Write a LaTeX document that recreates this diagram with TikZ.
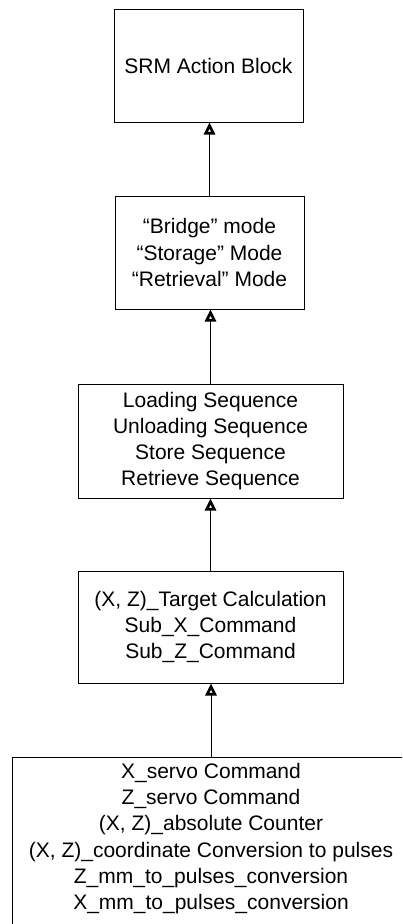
\documentclass[tikz,border=0pt]{standalone}
\usepackage{fontspec}
\setmainfont{Liberation Sans}
\usetikzlibrary{arrows.meta}
\begin{document}
\begin{tikzpicture}[x=1pt,y=-1pt,
  blk/.style={draw, line width=1pt, inner sep=0pt, align=center,
    font=\fontsize{21}{26.2}\selectfont},
  link/.style={line width=0.9pt,
    -{Triangle[open, length=12pt, width=11pt, line width=2.6pt]}}]
\useasboundingbox (0,0) rectangle (402,924);
\begin{scope}
\clip (0,0) rectangle (402,924);
\node[blk, minimum width=189pt, minimum height=113pt] (b1) at (208.5,65.5)
  {SRM Action Block};
\node[blk, minimum width=189pt, minimum height=113pt] (b2) at (209.5,252.5)
  {“Bridge” mode\\“Storage” Mode\\“Retrieval” Mode};
\node[blk, minimum width=265pt, minimum height=114pt] (b3) at (210.5,441)
  {Loading Sequence\\Unloading Sequence\\Store Sequence\\Retrieve Sequence};
\node[blk, minimum width=265pt, minimum height=112pt] (b4) at (210.5,627)
  {(X, Z)\_Target Calculation\\Sub\_X\_Command\\Sub\_Z\_Command};
% lowest block runs past the lower and right edges
\node[blk, minimum width=398pt, minimum height=190pt] (b5) at (211,852) {};
\node[blk, draw=none] (t5) at (211,838.5)
  {X\_servo Command\\Z\_servo Command\\(X, Z)\_absolute Counter\\(X, Z)\_coordinate Conversion to pulses\\Z\_mm\_to\_pulses\_conversion\\X\_mm\_to\_pulses\_conversion};
\end{scope}
\draw[link] (b2.north) -- (b2.north |- b1.south);
\draw[link] (b3.north) -- (b3.north |- b2.south);
\draw[link] (b4.north) -- (b4.north |- b3.south);
\draw[link] (b5.north) -- (b5.north |- b4.south);
\end{tikzpicture}
\end{document}
